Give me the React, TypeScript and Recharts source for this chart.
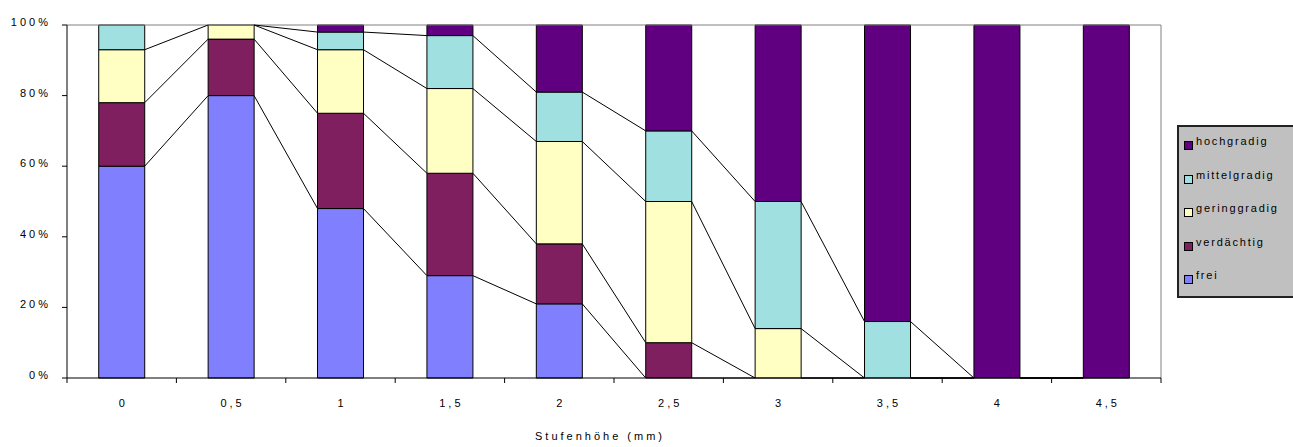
import React from 'react';
import { ComposedChart, Bar, XAxis, YAxis, Legend, ReferenceLine } from 'recharts';

const kategorien = ['0', '0,5', '1', '1,5', '2', '2,5', '3', '3,5', '4', '4,5'];
const frei = [60, 80, 48, 29, 21, 0, 0, 0, 0, 0];
const verdaechtig = [18, 16, 27, 29, 17, 10, 0, 0, 0, 0];
const geringgradig = [15, 4, 18, 24, 29, 40, 14, 0, 0, 0];
const mittelgradig = [7, 0, 5, 15, 14, 20, 36, 16, 0, 0];
const hochgradig = [0, 0, 2, 3, 19, 30, 50, 84, 100, 100];
const yTicks = [0, 20, 40, 60, 80, 100];

const serien = [
  { key: 'frei', name: 'frei', werte: frei, farbe: '#8080FF' },
  { key: 'verdaechtig', name: 'verdächtig', werte: verdaechtig, farbe: '#7F1F5F' },
  { key: 'geringgradig', name: 'geringgradig', werte: geringgradig, farbe: '#FFFFC4' },
  { key: 'mittelgradig', name: 'mittelgradig', werte: mittelgradig, farbe: '#A0E0E0' },
  { key: 'hochgradig', name: 'hochgradig', werte: hochgradig, farbe: '#600080' },
];

// idx = Position der Kategorie auf der numerischen x-Achse
const daten = kategorien.map((cat, i) => {
  const zeile: Record<string, string | number> = { cat, idx: i };
  serien.forEach(s => { zeile[s.key] = s.werte[i]; });
  return zeile;
});

const BAR_ANTEIL = 0.42; // Balkenbreite relativ zur Kategorie
const halb = BAR_ANTEIL / 2;

// Reihenverbindungslinien (wie bei Excel): Oberkante jeder Reihe, ohne die oberste
const kumuliert = (s: number, i: number) =>
  serien.slice(0, s + 1).reduce((sum, r) => sum + r.werte[i], 0);

const verbindungen: { x1: number; y1: number; x2: number; y2: number }[] = [];
for (let s = 0; s < serien.length - 1; s++) {
  for (let i = 0; i < kategorien.length - 1; i++) {
    const y1 = kumuliert(s, i);
    const y2 = kumuliert(s, i + 1);
    if (y1 === 100 && y2 === 100) continue; // liegt auf dem Rahmen
    verbindungen.push({ x1: i + halb, y1, x2: i + 1 - halb, y2 });
  }
}

const xTicks = kategorien.flatMap((_, i) => [i - 0.5, i]).concat(kategorien.length - 0.5);

const schrift = { fontFamily: '"Liberation Sans", Arial, sans-serif', fontSize: 11, letterSpacing: 3, fill: '#000' };

const XTick = (props: any) => {
  const { x, y, payload } = props;
  const v = payload.value;
  if (Number.isInteger(v)) {
    return (
      <text x={x + 1.5} y={y + 29} textAnchor="middle" style={schrift}>
        {kategorien[v]}
      </text>
    );
  }
  return <line x1={x} x2={x} y1={y} y2={y + 5} stroke="#000" />;
};

const YTick = (props: any) => {
  const { x, y, payload } = props;
  return (
    <text x={x} y={y + 1} textAnchor="end" style={schrift}>
      {payload.value}%
    </text>
  );
};

const Titel = (props: any) => {
  const { viewBox } = props;
  return (
    <text x={viewBox.x + viewBox.width / 2 - 14} y={viewBox.y + viewBox.height - 7} textAnchor="middle" style={schrift}>
      Stufenhöhe (mm)
    </text>
  );
};

const LegendBox = () => (
  <div
    style={{
      background: '#C0C0C0',
      border: '2px solid #222',
      boxSizing: 'border-box',
      width: 130,
      height: 173,
      paddingTop: 12,
      paddingLeft: 5,
      fontFamily: '"Liberation Sans", Arial, sans-serif',
      fontSize: 11,
      letterSpacing: 1.8,
    }}
  >
    {[...serien].reverse().map(s => (
      <div key={s.key} style={{ height: 33.5, display: 'flex', alignItems: 'flex-start' }}>
        <span
          style={{
            display: 'inline-block',
            width: 7,
            height: 7,
            marginTop: 2,
            border: '1px solid #000',
            background: s.farbe,
          }}
        />
        <span style={{ marginLeft: 3, marginTop: -4, lineHeight: '12px' }}>{s.name}</span>
      </div>
    ))}
  </div>
);

export default function App() {
  return (
    <div style={{ position: 'absolute', left: 0, top: 0 }}>
      <ComposedChart
        width={1293}
        height={447}
        data={daten}
        margin={{ top: 25, right: 132, bottom: 0, left: 0 }}
        barCategoryGap={`${((1 - BAR_ANTEIL) / 2) * 100}%`}
      >
        <XAxis
          dataKey="idx"
          type="number"
          domain={[-0.5, kategorien.length - 0.5]}
          ticks={xTicks}
          interval={0}
          allowDataOverflow
          height={69}
          axisLine={{ stroke: '#000' }}
          tickLine={false}
          tickSize={0}
          tickMargin={0}
          tick={<XTick />}
          label={<Titel />}
        />
        <YAxis
          domain={[0, 100]}
          ticks={yTicks}
          width={67}
          axisLine={{ stroke: '#000' }}
          tickLine={{ stroke: '#000' }}
          tickSize={5}
          tickMargin={11}
          tick={<YTick />}
        />
        <Legend
          layout="horizontal"
          align="center"
          verticalAlign="middle"
          content={<LegendBox />}
          wrapperStyle={{ left: 1177, top: 125, width: 130, height: 173 }}
        />
        {serien.map(s => (
          <Bar
            key={s.key}
            dataKey={s.key}
            name={s.name}
            stackId="a"
            fill={s.farbe}
            stroke="#000"
            strokeWidth={1}
            isAnimationActive={false}
          />
        ))}
        <ReferenceLine y={100} stroke="#808080" />
        <ReferenceLine x={kategorien.length - 0.5} stroke="#808080" />
        {verbindungen.map((v, i) => (
          <ReferenceLine
            key={i}
            segment={[{ x: v.x1, y: v.y1 }, { x: v.x2, y: v.y2 }]}
            stroke="#000"
            strokeWidth={1}
          />
        ))}
      </ComposedChart>
    </div>
  );
}
